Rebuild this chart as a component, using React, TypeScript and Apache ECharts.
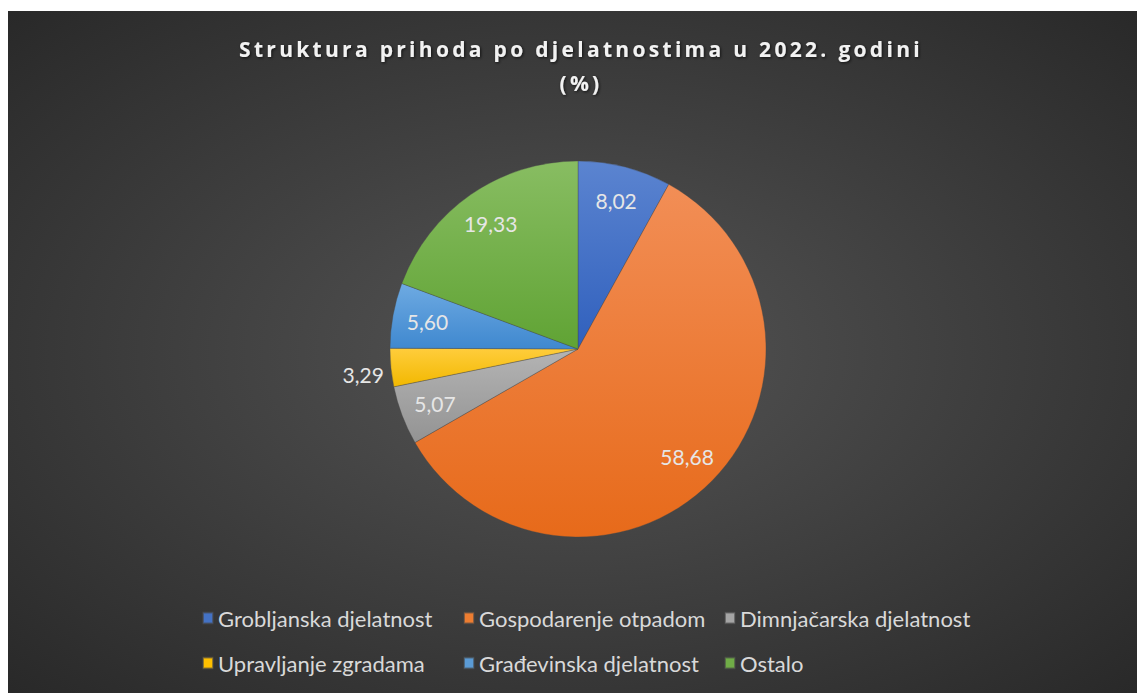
import React, { useEffect, useRef } from "react";
import * as echarts from "echarts";

const categories = [
  "Grobljanska djelatnost",
  "Gospodarenje otpadom",
  "Dimnjačarska djelatnost",
  "Upravljanje zgradama",
  "Građevinska djelatnost",
  "Ostalo",
];
const values = [8.02, 58.68, 5.07, 3.29, 5.6, 19.33];
const titleText = "Struktura prihoda po djelatnostima u 2022. godini\n(%)";

const gradTop = ["#5b84d0", "#f28e56", "#b4b4b4", "#ffcd3c", "#6eaae2", "#88bd62"];
const gradBottom = ["#3060bd", "#e76a1a", "#939393", "#f2b800", "#3f88cf", "#60a334"];
const solid = ["#4472c4", "#ed7d31", "#a5a5a5", "#ffc000", "#5b9bd5", "#70ad47"];

const css = `text[style*="TitleSpaced"]{letter-spacing:3.3px;}`;

export default function App() {
  const ref = useRef<HTMLDivElement>(null);
  useEffect(() => {
    if (!ref.current) return;
    const chart = echarts.init(ref.current, null, { renderer: "svg" });
    const cx = 570;
    const cy = 338;
    const R = 188;
    const fmt = (v: number) => v.toFixed(2).replace(".", ",");
    const mainData = categories.map((name, i) => ({
      name,
      value: values[i],
      itemStyle: {
        color: new echarts.graphic.LinearGradient(0, 0, 0, 1, [
          { offset: 0, color: gradTop[i] },
          { offset: 1, color: gradBottom[i] },
        ]),
      },
    }));
    const labelData = categories.map((name, i) => {
      const outside = values[i] < 4;
      return {
        name,
        value: values[i],
        label: outside
          ? {
              position: "outside",
              distanceToLabelLine: 7,
              formatter: (p: any) => "{lo|" + fmt(p.value) + "}",
            }
          : { position: "inside" },
      };
    });
    const legendRow = (items: string[], top: number) => ({
      orient: "horizontal",
      left: 189,
      top,
      width: 820,
      itemGap: 0,
      itemWidth: 10,
      itemHeight: 11,
      icon: "rect",
      data: items.map((n) => ({ name: n, itemStyle: { color: solid[categories.indexOf(n)] } })),
      textStyle: {
        color: "#d9d9d9",
        fontFamily: "Lato",
        fontSize: 22,
        lineHeight: 24,
        width: 245,
      },
      selectedMode: false,
    });
    chart.setOption({
      animation: false,
      backgroundColor: {
        type: "radial",
        x: 0.5,
        y: 0.5,
        r: 0.75,
        colorStops: [
          { offset: 0, color: "#555555" },
          { offset: 1, color: "#262626" },
        ],
      },
      title: {
        text: titleText,
        left: 568,
        top: 16,
        textAlign: "center",
        textStyle: {
          color: "#f2f2f2",
          fontFamily: "'Open Sans', TitleSpaced",
          fontWeight: "bold",
          fontSize: 21,
          lineHeight: 34,
          textShadowColor: "rgba(0,0,0,0.7)",
          textShadowBlur: 3,
          textShadowOffsetX: 1,
          textShadowOffsetY: 1,
        },
      },
      legend: [legendRow(categories.slice(0, 3), 590), legendRow(categories.slice(3), 635)],
      series: [
        {
          type: "pie",
          center: [cx, cy],
          radius: [0, R],
          startAngle: 90,
          clockwise: true,
          silent: true,
          label: { show: false },
          labelLine: { show: false },
          itemStyle: { borderColor: "rgba(70,70,70,0.6)", borderWidth: 0.6 },
          emphasis: { disabled: true },
          data: mainData,
        },
        {
          type: "pie",
          center: [cx, cy],
          radius: [112, R],
          startAngle: 90,
          clockwise: true,
          silent: true,
          avoidLabelOverlap: false,
          itemStyle: { color: "rgba(0,0,0,0)", borderWidth: 0 },
          labelLine: { show: false, length: 0, length2: 0 },
          label: {
            show: true,
            color: "#e6e6e6",
            fontFamily: "Lato",
            fontSize: 21,
            formatter: (p: any) => fmt(p.value),
            rich: {
              lo: {
                color: "#e6e6e6",
                fontFamily: "Lato",
                fontSize: 21,
                padding: [14, 0, 0, 0],
              },
            },
          },
          emphasis: { disabled: true },
          data: labelData,
        },
      ],
    });
    return () => chart.dispose();
  }, []);
  return (
    <>
      <style>{css}</style>
      <div
        ref={ref}
        style={{ position: "absolute", left: 8, top: 11, width: 1129, height: 682 }}
      />
    </>
  );
}
